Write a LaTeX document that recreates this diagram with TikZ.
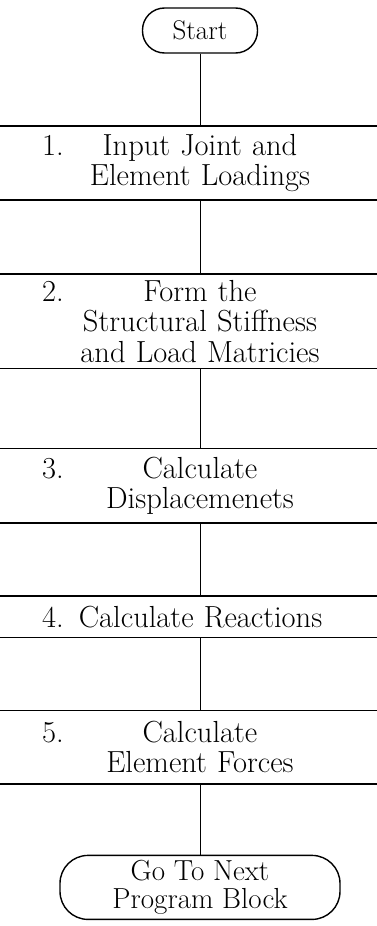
\documentclass[tikz,border=0pt]{standalone}
\usetikzlibrary{positioning}
\newcommand{\numline}[2]{\rlap{#1}\hfill#2\hfill\mbox{}}
\begin{document}
\begin{tikzpicture}[
  x=1pt, y=1pt,
  every node/.style={align=center, inner sep=0pt, font=\fontsize{30.5}{30.5}\selectfont},
  terminal/.style={draw, line width=1.4pt, rounded corners=22pt},
  stepbox/.style={text width=316pt},
  edge/.style={line width=1.6pt},
  link/.style={line width=0.9pt}
]
\useasboundingbox[fill=white] (0,0) rectangle (377,-926);
\coordinate (L) at (0,0);
\coordinate (R) at (377,0);

\node[terminal, minimum width=115pt, minimum height=45pt, font=\fontsize{27}{29}\selectfont] (start) at (200,-30.5) {Start};
\node[stepbox, minimum height=74pt, below=72pt of start] (load) {\numline{1.}{Input Joint and}\\Element Loadings};
\node[stepbox, minimum height=94pt, below=74pt of load] (stiff) {\numline{2.}{Form the}\\Structural Stiffness\\and Load Matricies};
\node[stepbox, minimum height=74pt, below=80pt of stiff] (disp) {\numline{3.}{Calculate}\\Displacemenets};
\node[stepbox, minimum height=41pt, below=73pt of disp] (react) {4. Calculate Reactions\hfill\mbox{}};
\node[stepbox, minimum height=73pt, below=73pt of react] (force) {\numline{5.}{Calculate}\\Element Forces};
\node[terminal, minimum width=280pt, minimum height=64pt, rounded corners=28pt, below=71pt of force, font=\fontsize{29}{28}\selectfont] (next) {Go To Next\\Program Block};

% box edges run across the page
\foreach \b in {load, stiff, disp, react, force}
  \draw[edge] (L |- \b.north) -- (R |- \b.north) (L |- \b.south) -- (R |- \b.south);

\foreach \a/\b in {start/load, load/stiff, stiff/disp, disp/react, react/force, force/next}
  \draw[link] (\a) -- (\b);
\end{tikzpicture}
\end{document}
